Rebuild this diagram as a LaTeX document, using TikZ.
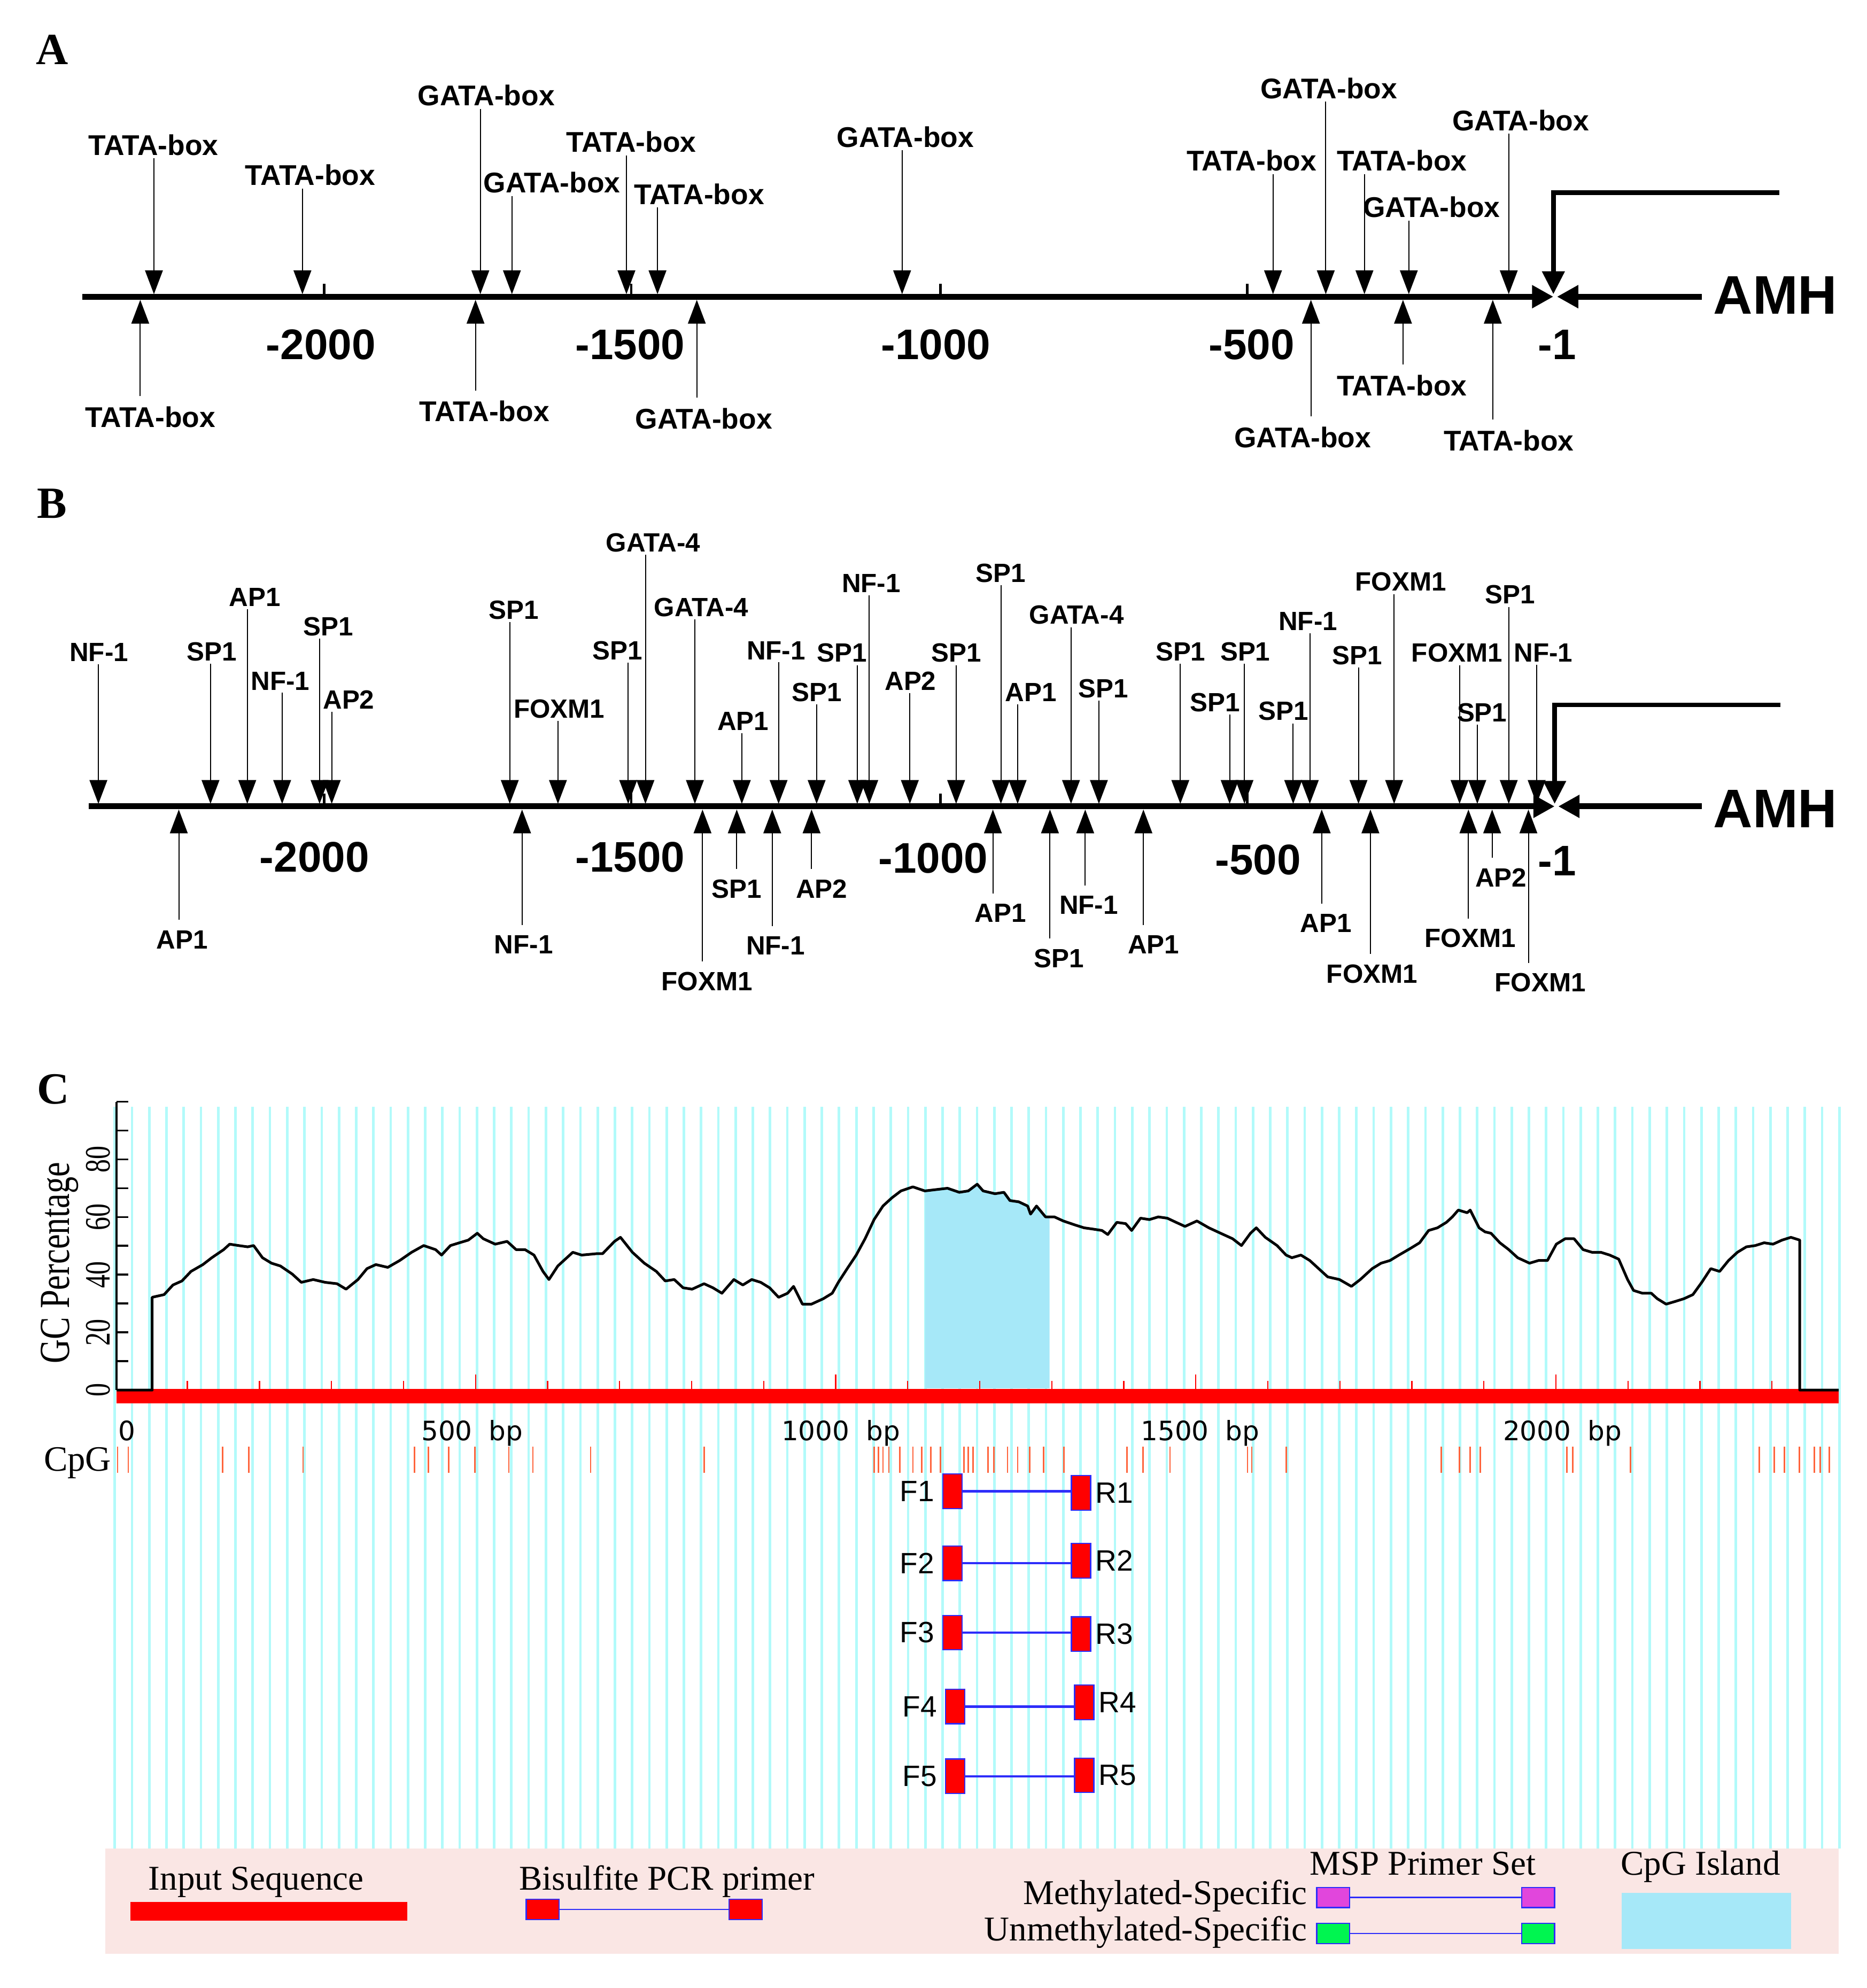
\documentclass[tikz,border=0pt]{standalone}
\usepackage{fontspec}
\setmainfont{Liberation Serif}
\newfontfamily\arialfont{Liberation Sans}
\newfontfamily\verdanafont{DejaVu Sans}
\usetikzlibrary{arrows.meta,positioning}

\definecolor{stripecyan}{RGB}{178,250,250}
\definecolor{islandblue}{RGB}{166,232,248}
\definecolor{cpgorange}{RGB}{255,100,60}
\definecolor{legendpink}{RGB}{250,230,228}
\definecolor{primerblue}{RGB}{45,45,250}
\definecolor{mspmagenta}{RGB}{225,70,220}
\definecolor{mspgreen}{RGB}{0,245,80}

\newcommand{\bpunit}{\hspace{0.62em}bp}

\tikzset{
  panel/.style={font=\bfseries\fontsize{25}{28}\selectfont, inner sep=0pt},
  boxlab/.style={font=\arialfont\bfseries\fontsize{16}{18}\selectfont, inner sep=0pt},
  sitelab/.style={font=\arialfont\bfseries\fontsize{14.8}{17}\selectfont, inner sep=0pt},
  poslab/.style={font=\arialfont\bfseries\fontsize{24}{28}\selectfont, inner sep=0pt},
  genelab/.style={font=\arialfont\bfseries\fontsize{30.5}{34}\selectfont, inner sep=0pt},
  sitedown/.style={line width=0.6pt, -{Triangle[width=0.35cm,length=0.47cm]}, shorten <=0.05cm},
  siteup/.style={line width=0.6pt, -{Triangle[width=0.35cm,length=0.47cm]}, shorten <=0.2cm},
  seqline/.style={line width=3.3pt, -{Triangle[width=0.43cm,length=0.42cm]}},
  promoter/.style={line width=2.6pt, -{Triangle[width=0.43cm,length=0.45cm]}},
  tickmark/.style={line width=1.4pt},
  stripeline/.style={stripecyan, line width=0.05cm},
  gcline/.style={line width=1.5pt, line join=round},
  redtick/.style={red, line width=0.7pt},
  cpgmark/.style={cpgorange, line width=0.8pt},
  bplab/.style={font=\verdanafont\fontsize{15}{18}\selectfont, inner sep=0pt},
  serlab/.style={font=\fontsize{19.5}{22}\selectfont, inner sep=0pt},
  primer/.style={draw=primerblue, fill=red, line width=0.7pt, minimum width=0.38cm, minimum height=0.68cm, inner sep=0pt},
  prlab/.style={font=\arialfont\fontsize{16.5}{19}\selectfont, inner sep=0pt},
  pline/.style={primerblue, line width=1.3pt},
  keybox/.style={draw=primerblue, line width=0.7pt, minimum width=0.65cm, minimum height=0.4cm, inner sep=0pt},
  keyline/.style={primerblue, line width=0.8pt}
}

\begin{document}
\begin{tikzpicture}[x=0.025cm,y=-0.025cm]
\useasboundingbox (0,0) rectangle (1472,1568);

% Panel letters
\node[panel] (pA) at (41,39) {A};
\node[panel] (pB) at (41,397) {B};
\node[panel] (pC) at (42,859) {C};

% ---------------- A ----------------
% Draw the sequence line
\coordinate (sA) at (65,234);
\coordinate (tssA) at (1225,234);
\coordinate (eA) at (1342,234);
\coordinate (pA) at (1403,152);
\node[genelab] (amhA) at (1400,233) {AMH};
\draw[seqline] (sA) -- (tssA);
\draw[seqline] (eA) -- ([xshift=0.07cm]tssA);
\draw[promoter] (pA) -| ([yshift=0.05cm]tssA);
\foreach \tx in {255.5,497.8,741.5,983.6}
  \draw[tickmark] (\tx,234) -- (\tx,224);
\foreach \p/\x [count=\i] in {-2000/253,-1500/497,-1000/738,-500/987,-1/1228}
  \node[poslab] (mA\i) at (\x,272) {\p};

% Draw the sites above the line
\foreach \lx/\ly/\ax/\txt [count=\i] in {
    121/114.3/121.4/TATA-box, 244.7/138.2/238.5/TATA-box,
    383.5/75.4/378.8/GATA-box, 435.2/144/403.7/GATA-box,
    497.8/112/494/TATA-box, 551.4/153/518.5/TATA-box,
    714/108/711.4/GATA-box, 987/126.8/1003.9/TATA-box,
    1047.9/69.7/1045.5/GATA-box, 1105.5/126.8/1076/TATA-box,
    1128.9/163.4/1111/GATA-box, 1199.2/94.8/1189.8/GATA-box}{
  \node[boxlab] (ua\i) at (\lx,\ly) {\txt};
  \coordinate (uat\i) at (\ax,232);
  \draw[sitedown] (ua\i.south -| uat\i) -- (uat\i);
}
% Draw the sites below the line
\foreach \lx/\ly/\ax/\txt [count=\i] in {
    118.6/329/110.6/TATA-box, 382/324.5/375/TATA-box,
    555/330/549.5/GATA-box, 1027.3/345/1033.8/GATA-box,
    1105.5/304/1106.4/TATA-box, 1189.8/347.3/1177.2/TATA-box}{
  \node[boxlab] (da\i) at (\lx,\ly) {\txt};
  \coordinate (dat\i) at (\ax,236.5);
  \draw[siteup] (da\i.north -| dat\i) -- (dat\i);
}

% ---------------- B ----------------
% Draw the sequence line
\coordinate (sB) at (70,636);
\coordinate (tssB) at (1226,636);
\coordinate (eB) at (1342,636);
\coordinate (pB) at (1404,556);
\node[genelab] (amhB) at (1400,638) {AMH};
\draw[seqline] (sB) -- (tssB);
\draw[seqline] (eB) -- ([xshift=0.07cm]tssB);
\draw[promoter] (pB) -| ([yshift=0.05cm]tssB);
\foreach \tx in {255.5,497.8,741.5,983.6}
  \draw[tickmark] (\tx,636) -- (\tx,626);
\foreach \p/\x/\y [count=\i] in {-2000/248/676,-1500/497/676,-1000/736/677,-500/992/678,-1/1228/679}
  \node[poslab] (mB\i) at (\x,\y) {\p};

% Draw the sites above the line
\foreach \lx/\ly/\ax/\txt [count=\i] in {
    78/514.5/77.6/NF-1, 167/514/166/SP1, 201/471/195/AP1,
    221/537/222.5/NF-1, 259/494/252/SP1, 275/552/261.6/AP2,
    405/481/402/SP1, 441/559/440/FOXM1, 487/513/495.4/SP1,
    515/428/509/GATA-4, 553/479/548/GATA-4, 586/569/585/AP1,
    612/513/614/NF-1, 644/546/644/SP1, 664/515/676/SP1,
    687/460/685.5/NF-1, 718/537/717.5/AP2, 754/515/754/SP1,
    789/452/789.3/SP1, 813/546/802.5/AP1, 849/485/844.6/GATA-4,
    870/543/866.6/SP1, 931/514/930.8/SP1, 958/554/969.7/SP1,
    982/514/981.4/SP1, 1012/561/1019.8/SP1, 1031.5/490/1032.9/NF-1,
    1070.4/517/1071.3/SP1, 1104.6/459/1099.4/FOXM1, 1149/515/1151/FOXM1,
    1168.7/562/1165/SP1, 1191/469/1189.8/SP1, 1217/515/1211.8/NF-1}{
  \node[sitelab] (ub\i) at (\lx,\ly) {\txt};
  \coordinate (ubt\i) at (\ax,634);
  \draw[sitedown] (ub\i.south -| ubt\i) -- (ubt\i);
}
% Draw the sites below the line
\foreach \lx/\ly/\ax/\txt [count=\i] in {
    143.5/741/141/AP1, 413/745/411.7/NF-1, 557.5/774/554/FOXM1,
    581/701/581/SP1, 611.6/746/609/NF-1, 648/701/640/AP2,
    789/720/783/AP1, 835/756/828/SP1, 858.6/714/855.8/NF-1,
    909.7/745/901.7/AP1, 1045.6/728/1042.3/AP1, 1082/768/1080.7/FOXM1,
    1159.4/740/1158/FOXM1, 1183.7/692/1176.7/AP2, 1214.6/775/1205.3/FOXM1}{
  \node[sitelab] (db\i) at (\lx,\ly) {\txt};
  \coordinate (dbt\i) at (\ax,638.5);
  \draw[siteup] (db\i.north -| dbt\i) -- (dbt\i);
}

% ---------------- C ----------------
% Draw the background stripes
\foreach \k in {0,...,100}
  \draw[stripeline] ({90.5+13.6*\k},873) -- ({90.5+13.6*\k},1458);

% CpG island under the curve
\fill[islandblue] (729.6,1095) -- (729.6,939.3) -- (737.8,938.3) -- (747.2,937.2)
  -- (756.5,940.4) -- (763.6,939.3) -- (770.6,934) -- (775.3,939.3) -- (784.6,941.5)
  -- (791.7,940.4) -- (796.4,946.9) -- (803.4,947.9) -- (810.4,951.2) -- (812.7,957.6)
  -- (817.4,951.2) -- (824.5,959.8) -- (827.7,959.8) -- (827.7,1095) -- cycle;

% Input sequence bar with its ticks
\fill[red] (92,1095.3) rectangle (1450,1107);
\foreach \k in {1,...,23}
  \draw[redtick] ({91+56.8*\k},1095.3) -- ++(0,-6);
\foreach \k in {5,10,15,20}
  \draw[redtick] ({91+56.8*\k},1095.3) -- ++(0,-11);

% GC curve
\draw[gcline] plot coordinates {(92,1096.4) (120,1096.4) (120,1023.2) (129.4,1021.1)
  (136.4,1013.5) (143.5,1010.3) (150.6,1002.8) (160,997.4) (167,992) (176.4,985.6)
  (181.1,981.3) (188.2,982.4) (195.3,983.4) (200,982.4) (207,992) (214.1,996.3)
  (221.1,998.5) (230.5,1004.9) (237.6,1011.4) (247,1009.2) (256.4,1011.4) (265.8,1012.5)
  (272.9,1016.8) (282.3,1009.2) (289.4,1000.6) (296.4,997.4) (305.8,999.6) (315.2,994.2)
  (324.6,987.7) (334.1,982.4) (343.5,985.6) (348.2,989.9) (355.2,982.4) (362.3,980.2)
  (369.3,978.1) (376.4,972.7) (381.1,977) (390.5,981.3) (399.9,979.1) (407,985.6)
  (414,985.6) (421.1,989.9) (428.2,1002.8) (432.9,1009.2) (439.9,998.5) (447,992)
  (451.7,987.7) (458.7,989.9) (470.5,988.8) (475.2,988.8) (484.6,979.1) (489.3,975.9)
  (498.7,987.7) (508.1,996.3) (517.6,1002.8) (524.6,1010.3) (531.7,1009.2) (538.7,1015.7)
  (545.8,1016.8) (555.2,1012.5) (562.2,1015.7) (569.3,1020) (578.7,1009.2) (585.8,1013.5)
  (592.8,1009.2) (599.9,1011.4) (606.9,1015.7) (614,1023.2) (621.1,1020) (625.8,1014.6)
  (632.8,1028.6) (639.9,1028.6) (649.3,1024.3) (656.3,1020) (661.1,1011.4) (668.1,1000.6)
  (675.2,989.9) (682.2,977) (689.3,961.9) (696.3,951.2) (703.4,944.7) (710.5,939.3)
  (719.9,936.1) (729.3,939.3) (737.8,938.3) (747.2,937.2) (756.5,940.4) (763.6,939.3)
  (770.6,934) (775.3,939.3) (784.6,941.5) (791.7,940.4) (796.4,946.9) (803.4,947.9)
  (810.4,951.2) (812.7,957.6) (817.4,951.2) (824.5,959.8) (831.5,959.8) (838.5,963)
  (847.9,966.2) (854.9,968.4) (861.9,969.4) (869,970.5) (873.6,973.7) (880.7,964.1)
  (887.7,965.1) (892.4,970.5) (899.4,960.8) (906.4,961.9) (913.4,959.8) (920.5,960.8)
  (927.5,964.1) (934.5,967.3) (943.9,963) (953.3,968.4) (962.6,972.7) (972,977)
  (979,982.4) (986.1,972.7) (990.7,968.4) (997.8,975.9) (1007.1,982.4) (1014.2,989.9)
  (1018.8,992) (1025.9,989.9) (1032.9,994.2) (1039.9,1000.6) (1047,1007.1) (1056.3,1009.2)
  (1065.7,1014.6) (1072.7,1009.2) (1082.1,1000.6) (1089.1,996.3) (1096.1,994.2) (1103.2,989.9)
  (1112.5,984.5) (1119.5,980.2) (1126.6,970.5) (1133.6,968.4) (1140.6,964.1) (1145.3,959.8)
  (1150,954.4) (1157,956.5) (1159.4,954.4) (1166.4,968.4) (1171.1,971.6) (1175.8,972.7)
  (1182.8,980.2) (1189.8,985.6) (1196.8,992) (1206.2,996.3) (1213.2,994.2) (1220.3,994.2)
  (1227.3,981.3) (1234.3,977) (1241.3,977) (1248.4,985.6) (1255.4,987.7) (1262.4,987.7)
  (1269.4,989.9) (1276.5,993.1) (1283.5,1009.2) (1288.2,1017.8) (1295.2,1020) (1302.2,1020)
  (1306.9,1024.3) (1313.9,1028.6) (1321,1026.5) (1328,1024.3) (1335,1021.1) (1342,1011.4)
  (1349.1,1000.6) (1356.1,1002.8) (1363.1,994.2) (1370.1,987.7) (1377.2,983.4) (1384.2,982.4)
  (1391.2,980.2) (1398.2,981.3) (1405.3,978.1) (1412.3,975.9) (1419.3,978.1) (1419.3,1096.4)
  (1450,1096.4)};

% Y axis
\draw[line width=1.1pt] (92,1096.4) -- (92,869);
\foreach \v in {0,10,...,100}
  \draw[line width=1.1pt] (92,{1096.4-2.275*\v}) -- ++(9,0);
\foreach \v in {0,20,40,60,80}
  \node[rotate=90, font=\fontsize{20}{22}\selectfont, inner sep=0pt] (gy\v) at (77.6,{1096.4-2.275*\v}) {\scalebox{0.75}[1]{\v}};
\node[rotate=90, font=\fontsize{24}{28}\selectfont, inner sep=0pt] (gclab) at (47,996) {\scalebox{0.78}[1]{GC Percentage}};

% X labels
\node[bplab, anchor=base west] (x0) at (93,1136) {0};
\node[bplab, anchor=base west] (x500) at (332,1136) {500\bpunit};
\node[bplab, anchor=base west] (x1000) at (616,1136) {1000\bpunit};
\node[bplab, anchor=base west] (x1500) at (899.4,1136) {1500\bpunit};
\node[bplab, anchor=base west] (x2000) at (1185,1136) {2000\bpunit};

% CpG sites
\node[serlab, font=\fontsize{20}{22}\selectfont, anchor=base east] (cpg) at (88,1160) {CpG};
\foreach \c in {92.7,101.2,175.5,196.2,239,327,337.8,353.8,374.5,401.3,420.2,465.8,
    555.2,689.3,692.6,696.3,701,709.5,719.9,726.9,734,741.5,760.3,763.6,767.3,779.1,
    783.8,794.6,802.6,812,822.9,838.9,888.7,901.4,922.6,983.8,987.1,1014.4,1136.7,
    1150.8,1159.3,1167.3,1235.5,1240.2,1285.8,1387.5,1399.2,1407.2,1418.9,1430.7,
    1435.4,1442.5}
  \draw[cpgmark] (\c,1141) -- (\c,1161.5);

% Bisulfite primers
\foreach \fx/\fy/\rx/\ry [count=\i] in {751.2/1176.2/852.5/1177.5, 751.2/1233/852.5/1231,
    751.2/1287.7/852.5/1288.8, 753.2/1346/855/1342.7, 753.2/1401/855/1400.2}{
  \node[primer] (f\i) at (\fx,\fy) {};
  \node[primer] (r\i) at (\rx,\ry) {};
  \draw[pline] (f\i.east) -- (f\i.east -| r\i.west);
  \node[prlab, left=0.15cm of f\i] (fl\i) {F\i};
  \node[prlab, right=0.08cm of r\i] (rl\i) {R\i};
}

% Legend
\fill[legendpink] (83,1458) rectangle (1450,1541);
\node[serlab, anchor=base] (kin) at (202,1490.5) {Input Sequence};
\fill[red] (103,1500) rectangle (321,1515);
\node[serlab, anchor=base] (kbis) at (526,1490.5) {Bisulfite PCR primer};
\node[keybox, fill=red] (kbl) at (428,1506) {};
\node[keybox, fill=red] (kbr) at (588,1506) {};
\draw[keyline] (kbl) -- (kbr);
\node[serlab, anchor=base] (kmsp) at (1122,1479) {MSP Primer Set};
\node[serlab, anchor=base east] (kmet) at (1031,1502) {Methylated-Specific};
\node[serlab, anchor=base east] (kunm) at (1031,1530.5) {Unmethylated-Specific};
\node[keybox, fill=mspmagenta] (kml) at (1051.4,1496.6) {};
\node[keybox, fill=mspmagenta] (kmr) at (1212.9,1496.6) {};
\draw[keyline] (kml) -- (kmr);
\node[keybox, fill=mspgreen] (kul) at (1051.4,1525) {};
\node[keybox, fill=mspgreen] (kur) at (1212.9,1525) {};
\draw[keyline] (kul) -- (kur);
\node[serlab, anchor=base] (kisl) at (1341,1479) {CpG Island};
\fill[islandblue] (1279,1493) rectangle (1412.5,1537);
\end{tikzpicture}
\end{document}
